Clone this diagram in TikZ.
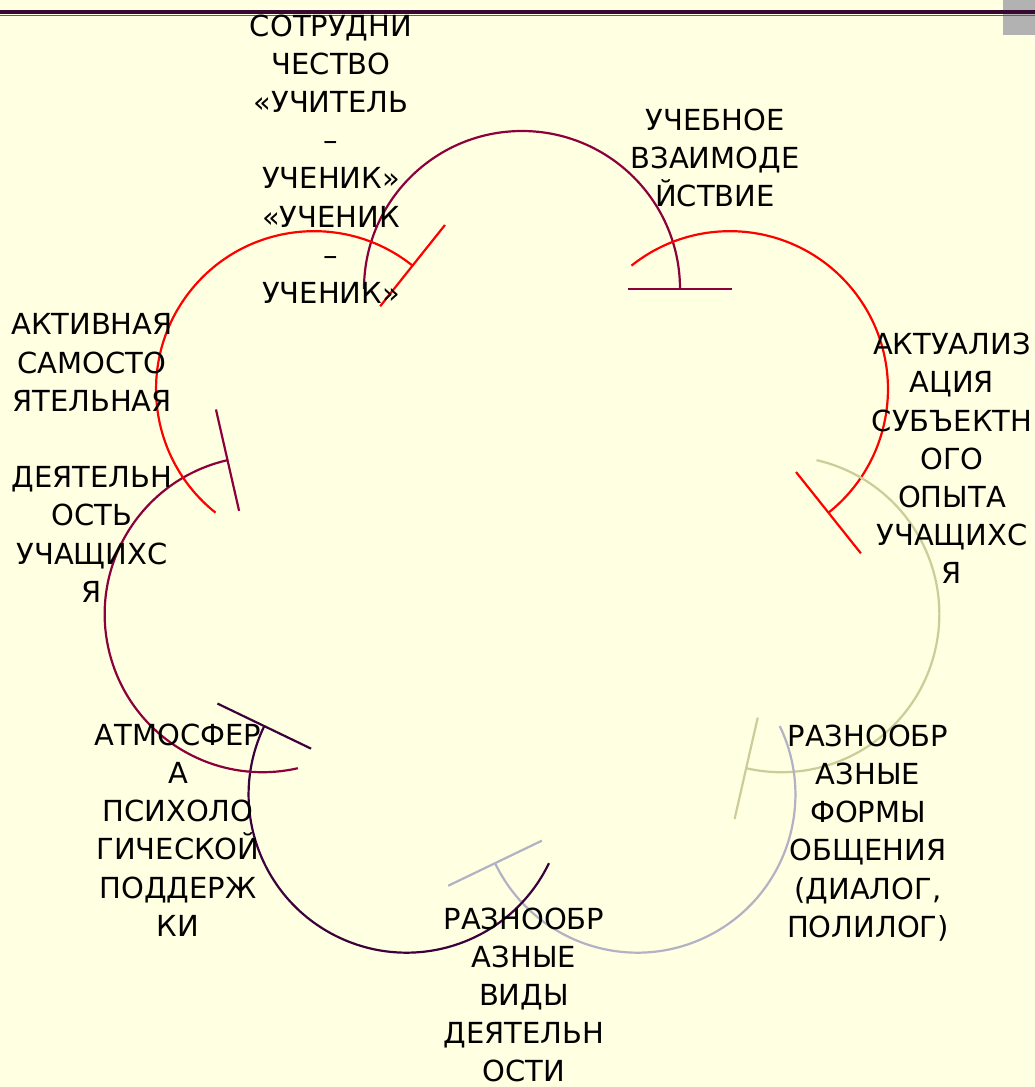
\documentclass[tikz,border=0pt]{standalone}
\usepackage{fontspec}
\setmainfont{DejaVu Sans}
\usetikzlibrary{calc}
\definecolor{bgyellow}{RGB}{255,255,225}
\definecolor{crimsonarc}{RGB}{140,0,60}
\definecolor{redarc}{RGB}{255,0,0}
\definecolor{khakiarc}{RGB}{204,204,153}
\definecolor{grayarc}{RGB}{178,178,196}
\definecolor{purplearc}{RGB}{60,0,60}
\definecolor{topline}{RGB}{55,8,48}
\definecolor{toplinelight}{RGB}{130,70,115}
\definecolor{cornergray}{RGB}{178,178,178}
\begin{document}
\begin{tikzpicture}[x=1pt,y=-1pt,
  lbl/.style={align=center, inner sep=0pt, font=\fontsize{29}{38.2}\selectfont, text=black},
  arcline/.style={line width=2.2pt}]
\fill[bgyellow] (0,0) rectangle (1035,1087);
\useasboundingbox (0,0) rectangle (1035,1087);
\fill[cornergray] (1003,0) rectangle (1035,35);
\draw[topline, line width=4.5pt] (0,12) -- (1035,12);
\draw[toplinelight, line width=1.2pt] (0,15.5) -- (1035,15.5);
\coordinate (O) at (522,555);
\foreach \k/\col in {0/crimsonarc,1/redarc,2/khakiarc,3/grayarc,4/purplearc,5/crimsonarc,6/redarc}{
  \pgfmathsetmacro{\ang}{-90+\k*360/7}
  \coordinate (c\k) at ($(O)+(\ang:266)$);
  \draw[arcline,\col] ($(c\k)+(\ang-90:158)$) arc[start angle=\ang-90, end angle=\ang+90, radius=158];
  \draw[arcline,\col] ($(c\k)+(\ang+90:106)$) -- ($(c\k)+(\ang+90:210)$);
}
\node[lbl] (t1) at (331,159) {СОТРУДНИ\\ЧЕСТВО\\«УЧИТЕЛЬ\\–\\УЧЕНИК»\\«УЧЕНИК\\–\\УЧЕНИК»};
\node[lbl] (t2) at (715,158) {УЧЕБНОЕ\\ВЗАИМОДЕ\\ЙСТВИЕ};
\node[lbl] (t3) at (952,458.5) {АКТУАЛИЗ\\АЦИЯ\\СУБЪЕКТН\\ОГО\\ОПЫТА\\УЧАЩИХС\\Я};
\node[lbl] (t4) at (868,833) {РАЗНООБР\\АЗНЫЕ\\ФОРМЫ\\ОБЩЕНИЯ\\(ДИАЛОГ,\\ПОЛИЛОГ)};
\node[lbl] (t5) at (524,995) {РАЗНООБР\\АЗНЫЕ\\ВИДЫ\\ДЕЯТЕЛЬН\\ОСТИ};
\node[lbl] (t6) at (178,830) {АТМОСФЕР\\А\\ПСИХОЛО\\ГИЧЕСКОЙ\\ПОДДЕРЖ\\КИ};
\node[lbl] (t7) at (92,458) {АКТИВНАЯ\\САМОСТО\\ЯТЕЛЬНАЯ\\\mbox{}\\ДЕЯТЕЛЬН\\ОСТЬ\\УЧАЩИХС\\Я};
\end{tikzpicture}
\end{document}
